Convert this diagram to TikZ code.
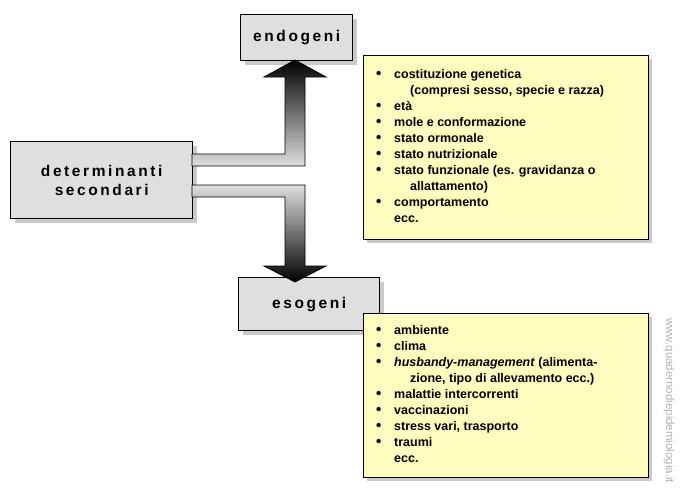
\documentclass[tikz,border=0pt]{standalone}
\usepackage{fontspec}
\setmainfont{Liberation Sans}
\usetikzlibrary{shadows}
\newcommand{\blt}{\makebox[18pt][l]{\raisebox{-0.5pt}{\fontsize{15}{16}\selectfont\textbullet}}}
\begin{document}
\begin{tikzpicture}[x=1pt,y=-1pt,
greybox/.style={draw=black, line width=1.4pt, fill=gray!25, drop shadow={shadow xshift=4pt, shadow yshift=-4pt, fill=gray!70, opacity=.6}},
notebox/.style={draw=black, line width=0.8pt, fill=yellow!25, drop shadow={shadow xshift=4pt, shadow yshift=-4pt, fill=gray!70, opacity=.6}},
title/.style={font=\bfseries\fontsize{15.5}{19}\selectfont, align=center},
listtext/.style={anchor=north west, align=left, inner sep=0pt, font=\bfseries\fontsize{12.5}{16}\selectfont},
arrowline/.style={draw=black, line width=0.8pt}]
\useasboundingbox (0,0) rectangle (688,496);

% boxes
\node[greybox, minimum width=112pt, minimum height=46pt, anchor=north west] (endo) at (240,14) {};
\node[title] at (endo) {e\,n\,d\,o\,g\,e\,n\,i};
\node[greybox, minimum width=182pt, minimum height=77pt, anchor=north west] (det) at (10,141) {};
\node[title] at (det) {d\,e\,t\,e\,r\,m\,i\,n\,a\,n\,t\,i\\ s\,e\,c\,o\,n\,d\,a\,r\,i};
\node[greybox, minimum width=141pt, minimum height=53pt, anchor=north west] (eso) at (238,277) {};
\node[title] at (eso) {e\,s\,o\,g\,e\,n\,i};

% arrows
\shade[top color=black, bottom color=gray!25, arrowline]
  (192,154) -- (285,154) -- (285,77) -- (264,77) -- (295,60) -- (326,77) -- (305,77) -- (305,166) -- (192,166) -- cycle;
\shade[top color=gray!25, bottom color=black, arrowline]
  (192,185) -- (305,185) -- (305,266) -- (326,266) -- (295,282) -- (264,266) -- (285,266) -- (285,197) -- (192,197) -- cycle;

% notes
\node[notebox, minimum width=285pt, minimum height=184pt, anchor=north west] (endonote) at (363,55) {};
\node[listtext] (endolist) at (376,69) {%
\blt costituzione genetica\\
\hspace*{34pt}(compresi sesso, specie e razza)\\
\blt età\\
\blt mole e conformazione\\
\blt stato ormonale\\
\blt stato nutrizionale\\
\blt stato funzionale (es. gravidanza o\\
\hspace*{34pt}allattamento)\\
\blt comportamento\\
\hspace*{18pt}ecc.};
\node[notebox, minimum width=285pt, minimum height=164pt, anchor=north west] (esonote) at (363,313) {};
\node[listtext] (esolist) at (376,325) {%
\blt ambiente\\
\blt clima\\
\blt \textit{husbandy-management} (alimenta-\\
\hspace*{34pt}zione, tipo di allevamento ecc.)\\
\blt malattie intercorrenti\\
\blt vaccinazioni\\
\blt stress vari, trasporto\\
\blt traumi\\
\hspace*{18pt}ecc.};

% watermark
\node[rotate=-90, anchor=west, text=gray!60, font=\fontsize{11.5}{12}\selectfont, inner sep=0pt] (mark) at (669,318) {www.quadernodiepidemiologia.it};
\end{tikzpicture}
\end{document}
